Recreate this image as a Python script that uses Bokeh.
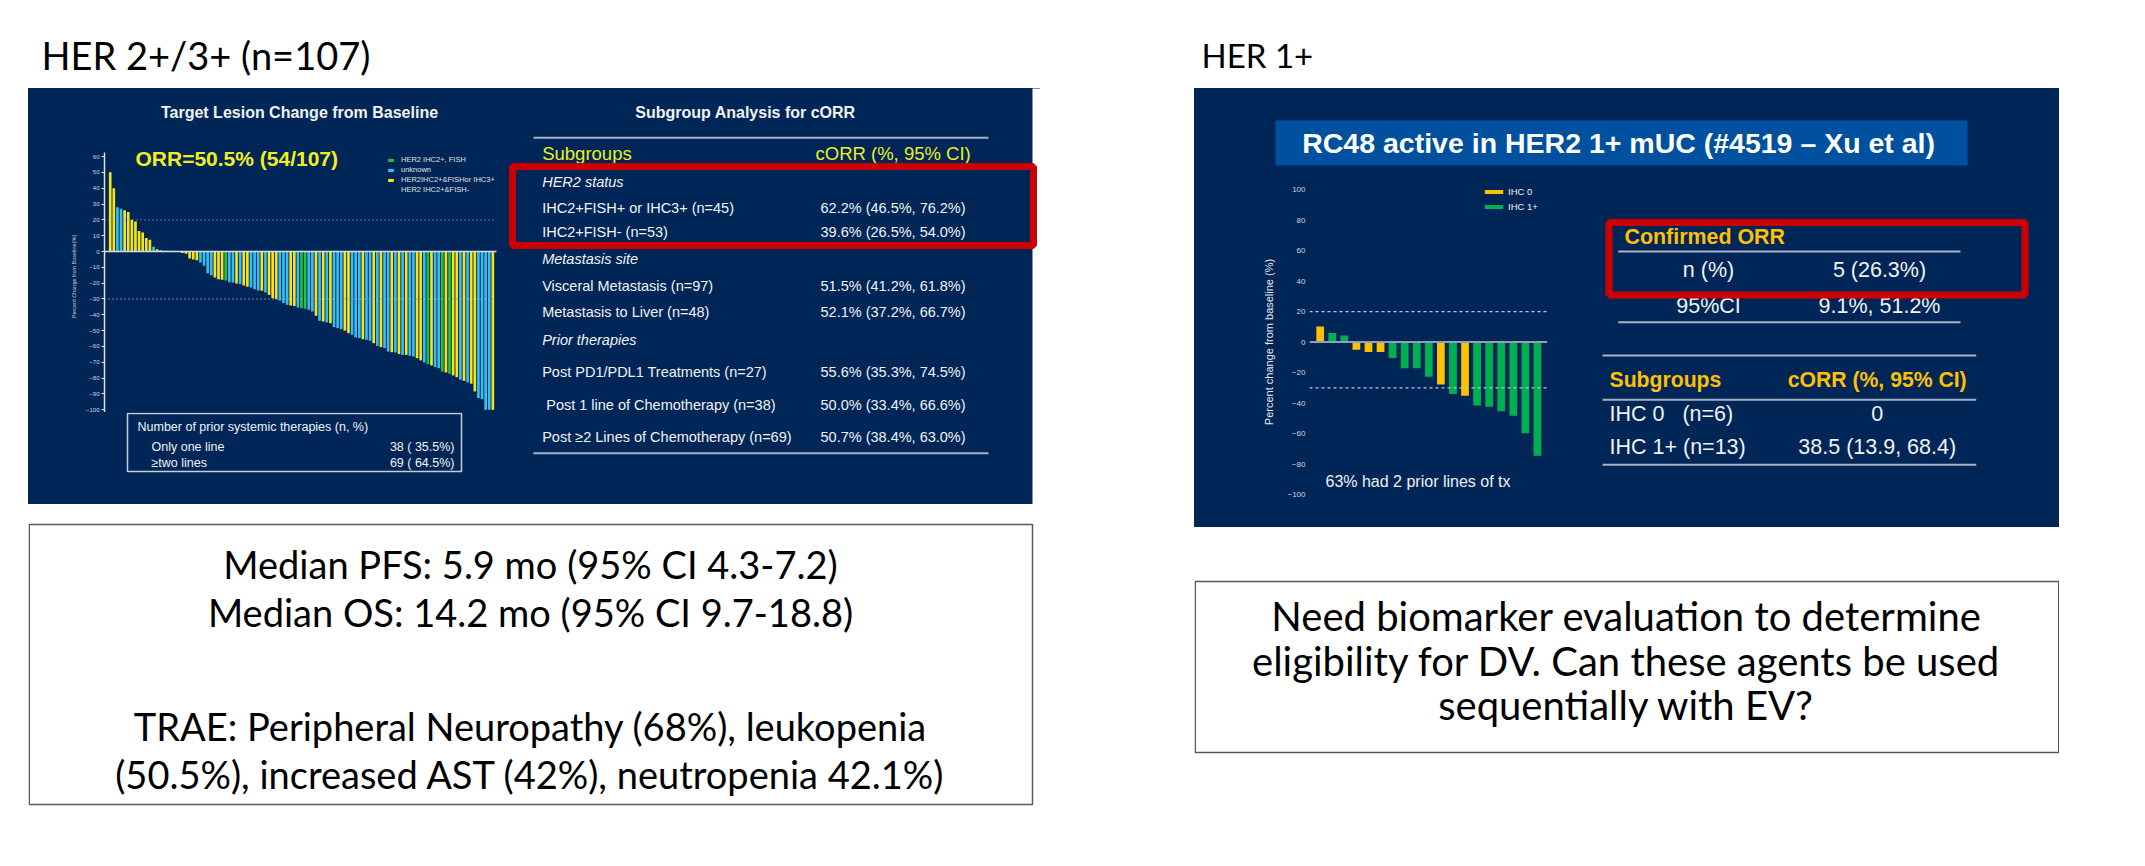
from bokeh.plotting import figure
from bokeh.models import (Range1d, Label, BoxAnnotation, Legend, LegendItem, FixedTicker,
                          ColumnDataSource, Spacer, Span)
from bokeh.layouts import row, column
from bokeh.embed import file_html
from bokeh.resources import INLINE

# ---------------- data ----------------
her23_change = [50, 40, 28, 27, 26, 25, 20, 19, 13, 12, 8.5, 7.5, 3, 1.5, 1,
                0.6, 0.5, 0.5, 0.4, 0.3, -1, -1.5, -4.5, -5, -5.5, -7, -9,
                -13.7, -15, -16.4, -17.5, -17.9, -18.3, -19.4, -19.6, -20.2, -20.6,
                -21.5, -22.3, -22.7, -23.8, -24.6, -24.8, -25.9, -27.4, -29.5, -30.1,
                -31, -32.6, -33.7, -34.1, -34.5, -35.4, -35.8, -36.2, -36.8, -37.9,
                -40.6, -43.8, -44.2, -44.8, -45.3, -47.8, -48.4, -49, -50, -51.6,
                -52.6, -54.3, -54.7, -55.4, -55.8, -56.4, -57.9, -59.6, -60.4, -61,
                -63.2, -63.6, -63.8, -64.8, -65.3, -65.3, -65.9, -66.3, -67.4, -68.8,
                -70.1, -71.2, -72, -73, -73.7, -75.8, -76.4, -77.3, -78.3, -79.4,
                -81, -81.7, -82.7, -83.5, -88.4, -92.6, -93.3, -100, -100, -100]
her23_group = list("YYBBYYYYYYYYBYB" "GGGGG" "YYYYYBB" "BBYYYGBBYB" "YYBBBYBYYY"
                   "BBBYYBGGBB" "YBYBYBBBYY" "BBBYBBYBYB" "BYBYBYBBYY" "BGYBBGYGYY"
                   "BYBYYBBBBY")
her23_legend = [("G", "HER2 IHC2+, FISH"), ("B", "unknown"), ("Y", "HER2IHC2+&FISHor IHC3+")]
her23_legend_extra = "HER2 IHC2+&FISH-"
her23_ticks = [-100, -90, -80, -70, -60, -50, -40, -30, -20, -10, 0, 10, 20, 30, 40, 50, 60]
her23_ref_lines = [20, -30]

her1_change = [10.2, 5.9, 4.3, -5, -6.5, -6.5, -10.4, -17.2, -17.2, -22.8, -27.8,
               -34.1, -35.2, -41.5, -42.4, -45.4, -48.3, -59.8, -74.6]
her1_group = ["IHC 0", "IHC 1+", "IHC 1+", "IHC 0", "IHC 0", "IHC 0", "IHC 1+", "IHC 1+",
              "IHC 1+", "IHC 1+", "IHC 0", "IHC 1+", "IHC 0", "IHC 1+", "IHC 1+", "IHC 1+",
              "IHC 1+", "IHC 1+", "IHC 1+"]
her1_ticks = [-100, -80, -60, -40, -20, 0, 20, 40, 60, 80, 100]
her1_ref_lines = [20, -30]

NB = "\u00a0"
subgroup_labels = ["HER2 status", "IHC2+FISH+ or IHC3+ (n=45)", "IHC2+FISH- (n=53)",
                   "Metastasis site", "Visceral Metastasis (n=97)", "Metastasis to Liver (n=48)",
                   "Prior therapies", "Post PD1/PDL1 Treatments (n=27)",
                   NB + "Post 1 line of Chemotherapy (n=38)",
                   "Post \u22652 Lines of Chemotherapy (n=69)"]
subgroup_italic = [True, False, False, True, False, False, True, False, False, False]
subgroup_corr = ["", "62.2% (46.5%, 76.2%)", "39.6% (26.5%, 54.0%)", "",
                 "51.5% (41.2%, 61.8%)", "52.1% (37.2%, 66.7%)", "",
                 "55.6% (35.3%, 74.5%)", "50.0% (33.4%, 66.6%)", "50.7% (38.4%, 63.0%)"]
prior_lines = [("Only one line", "38 ( 35.5%)"), ("\u2265two lines", "69 ( 64.5%)")]
orr_rows = [("n (%)", "5 (26.3%)"), ("95%CI", "9.1%, 51.2%")]
ihc_rows = [("IHC 0" + NB * 3 + "(n=6)", "0"), ("IHC 1+ (n=13)", "38.5 (13.9, 68.4)")]
summary_left = ["Median PFS: 5.9 mo (95% CI 4.3-7.2)", "Median OS: 14.2 mo (95% CI 9.7-18.8)",
                "TRAE: Peripheral Neuropathy (68%), leukopenia",
                "(50.5%), increased AST (42%), neutropenia 42.1%)"]
summary_right = ["Need biomarker evaluation to determine",
                 "eligibility for DV. Can these agents be used", "sequentially with EV?"]

# ---------------- style ----------------
NAVY = "#002658"
ARIAL = "Liberation Sans"
CAL = "Lato"
COL23 = {"Y": "#F6E41E", "B": "#38BDEE", "G": "#22C33A"}
COL1 = {"IHC 0": "#FFC000", "IHC 1+": "#00B050"}
GOLD = "#FFC000"
YEL = "#EEEE22"
TXT = "#F2F2F2"
RED = "#CC0000"
BG_NAVY = {"background-color": NAVY}


def canvas(w, h, bg, left=0, bottom=0):
    # data coordinates == canvas pixels (y downwards), whatever borders the layout aligns
    p = figure(width=w, height=h, x_range=Range1d(left, w), y_range=Range1d(h - bottom, 0),
               output_backend="svg", toolbar_location=None,
               x_axis_location=None, y_axis_location=None,
               min_border_left=left, min_border_right=0, min_border_top=0,
               min_border_bottom=bottom)
    p.grid.visible = False
    p.outline_line_color = None
    p.background_fill_color = bg
    p.border_fill_color = bg
    return p


def lab(p, x, y, text, size, color=TXT, font=ARIAL, style="normal", align="left",
        baseline="middle", angle=0):
    p.add_layout(Label(x=x, y=y, text=text, text_font_size=f"{size}px", text_color=color,
                       text_font=font, text_font_style=style, text_align=align,
                       text_baseline=baseline, angle=angle))


def hline(p, x0, x1, y, color="#A8B2C4", width=2):
    p.segment(x0=[x0], y0=[y], x1=[x1], y1=[y], line_color=color, line_width=width)


def frame_box(p, l, r, t, b, color, width):
    p.add_layout(BoxAnnotation(left=l, right=r, top=t, bottom=b, fill_alpha=0,
                               line_color=color, line_alpha=1, line_width=width))


# ---------------- header ----------------
header = canvas(2137, 80, "white")
lab(header, 41, 46, "HER 2+/3+ (n=107)", 38, "black", CAL)
lab(header, 1201, 46, "HER 1+", 33, "black", CAL)

# ---------------- left waterfall ----------------
L_X0, L_PX = -0.579, 3.61     # x range start, px per bar
L_PY = 1.583
L_BL = 76
lc = figure(width=477, height=272, x_range=Range1d(L_X0, L_X0 + 401 / L_PX),
            y_range=Range1d(-(412 - 251) / L_PY, (251 - 140) / L_PY),
            output_backend="svg", toolbar_location=None, x_axis_location=None,
            y_axis_location="left", min_border_left=L_BL, min_border_right=0,
            min_border_top=0, min_border_bottom=0)
lc.grid.visible = False
lc.outline_line_color = None
lc.background_fill_color = NAVY
lc.border_fill_color = NAVY

n23 = len(her23_change)
renderers = {}
for g in ["G", "B", "Y"]:
    xs = [i + 1 for i in range(n23) if her23_group[i] == g]
    ys = [her23_change[i] for i in range(n23) if her23_group[i] == g]
    src = ColumnDataSource(dict(x=xs, top=ys))
    renderers[g] = lc.vbar(x="x", top="top", bottom=0, width=0.74, source=src,
                           fill_color=COL23[g], line_color=None)
dummy = lc.vbar(x=[], top=[], width=0.7, fill_alpha=0, line_alpha=0)

lc.segment(x0=[L_X0], y0=[0], x1=[n23 + 1], y1=[0], line_color="#D8DCE4", line_width=1.6)
for yv in her23_ref_lines:
    lc.segment(x0=[L_X0], y0=[yv], x1=[n23 + 1], y1=[yv], line_color="#8FA6C6",
               line_width=1.4, line_dash="1 3")

ax = lc.yaxis[0]
ax.ticker = FixedTicker(ticks=her23_ticks)
ax.bounds = (-102, 62.7)
ax.axis_line_color = "#E0E0E0"
ax.axis_line_width = 1.5
ax.major_tick_line_color = "#E0E0E0"
ax.major_tick_out = 3
ax.major_tick_in = 0
ax.minor_tick_line_color = None
ax.major_label_text_font_size = "6px"
ax.major_label_text_color = "#D8D8D8"
ax.major_label_text_font = ARIAL
ax.major_label_standoff = 2
ax.axis_label = "Percent Change from Baseline(%)"
ax.axis_label_text_font_size = "5.5px"
ax.axis_label_text_color = "#C8C8C8"
ax.axis_label_text_font_style = "normal"
ax.axis_label_text_font = ARIAL
ax.axis_label_standoff = 6


def ldx(px):
    return L_X0 + (px - 104) / L_PX


def ldy(py):
    return (251 - py) / L_PY


lab(lc, ldx(135), ldy(158), "ORR=50.5% (54/107)", 21, "#F5EE1E", style="bold")

items = [LegendItem(label=lbl, renderers=[renderers[g]]) for g, lbl in her23_legend]
items.append(LegendItem(label=her23_legend_extra, renderers=[dummy]))
leg = Legend(items=items, location=(283, 218), padding=0, margin=0, spacing=1,
             label_height=9, glyph_height=4, glyph_width=7, label_standoff=7,
             label_text_font_size="7.5px", label_text_color="#E0E0E0", label_text_font=ARIAL,
             background_fill_alpha=0, border_line_color=None)
lc.add_layout(leg)

lt_top = canvas(477, 52, NAVY, left=L_BL)
lab(lt_top, 271, 24, "Target Lesion Change from Baseline", 16, TXT, style="bold", align="center")

lt_bot = canvas(477, 92, NAVY, left=L_BL)
frame_box(lt_bot, 99, 433, 1, 59, "#C8CCD4", 1.5)
lab(lt_bot, 109, 14.7, "Number of prior systemic therapies (n, %)", 12.5)
for k, (a, b) in enumerate(prior_lines):
    lab(lt_bot, 123, 34.7 + 16 * k, a, 12.5)
    lab(lt_bot, 426, 34.7 + 16 * k, b, 12.5, align="right")

left_chart_col = column(lt_top, lc, lt_bot, styles=BG_NAVY)

# ---------------- left table ----------------
ltab = canvas(535, 416, NAVY)
ltab.quad(left=[527], right=[540], top=[-5], bottom=[421], fill_color="white", line_color=None)
lab(ltab, 240, 24, "Subgroup Analysis for cORR", 16, TXT, style="bold", align="center")
hline(ltab, 28, 483, 49.3)
lab(ltab, 36.7, 65.3, "Subgroups", 18.5, YEL)
lab(ltab, 310, 65.3, "cORR (%, 95% CI)", 18.5, YEL)
row_y = [93.7, 119.7, 143.7, 170.3, 197, 223.7, 251.3, 283, 316.3, 348.7]
for yy, t, it, v in zip(row_y, subgroup_labels, subgroup_italic, subgroup_corr):
    lab(ltab, 36.7, yy, t, 14.5, style="italic" if it else "normal")
    if v:
        lab(ltab, 315, yy, v, 14.5)
hline(ltab, 28, 483, 364.7)
frame_box(ltab, 7, 528, 78, 157, RED, 7)

left_panel = row(left_chart_col, ltab, styles=BG_NAVY)

lbot = canvas(1012, 305, "white")
frame_box(lbot, 0.75, 1004, 20, 300, "#595959", 1.5)
for yy, t in zip([59.6, 107.5, 221, 269], summary_left):
    lab(lbot, 502, yy, t, 38, "black", CAL, align="center")

left_col = column(left_panel, lbot)

# ---------------- right panel ----------------
rtop = canvas(865, 95, NAVY)
rtop.quad(left=[81], right=[773], top=[32], bottom=[77], fill_color="#0050A0", line_color=None)
lab(rtop, 107.7, 54.3, "RC48 active in HER2 1+ mUC (#4519 \u2013 Xu et al)", 28.5, "white",
    style="bold")

R_X0, R_PX = 0.114, 12.07
R_PY = 1.525
R_BB = 27
rc = figure(width=366, height=344, x_range=Range1d(R_X0, R_X0 + 238 / R_PX),
            y_range=Range1d(-(500 - 341.6) / R_PY, (341.6 - 183) / R_PY),
            output_backend="svg", toolbar_location=None, x_axis_location=None,
            y_axis_location="left", min_border_left=115, min_border_right=13,
            min_border_top=0, min_border_bottom=R_BB)
rc.grid.visible = False
rc.outline_line_color = None
rc.background_fill_color = NAVY
rc.border_fill_color = NAVY
rr = {}
for g in ["IHC 0", "IHC 1+"]:
    xs = [i + 1 for i in range(len(her1_change)) if her1_group[i] == g]
    ys = [her1_change[i] for i in range(len(her1_change)) if her1_group[i] == g]
    rr[g] = rc.vbar(x=xs, top=ys, bottom=0, width=0.64, fill_color=COL1[g], line_color=None)
rc.add_layout(Span(location=0, dimension="width", line_color="#8CA0C0", line_width=2))
for yv in her1_ref_lines:
    rc.add_layout(Span(location=yv, dimension="width", line_color="#B8C4D8", line_width=1.2,
                       line_dash="3 3"))
ay = rc.yaxis[0]
ay.ticker = FixedTicker(ticks=her1_ticks)
ay.axis_line_color = None
ay.major_tick_line_color = None
ay.minor_tick_line_color = None
ay.major_tick_out = 0
ay.major_tick_in = 0
ay.major_label_text_font_size = "8px"
ay.major_label_text_color = "#D0D4DC"
ay.major_label_text_font = ARIAL
ay.major_label_standoff = 4
ay.axis_label = "Percent change from baseline (%)"
ay.axis_label_text_font_size = "11px"
ay.axis_label_text_color = "#E8E8E8"
ay.axis_label_text_font_style = "normal"
ay.axis_label_text_font = ARIAL
ay.axis_label_standoff = 9
lab(rc, R_X0 + (1325 - 1309) / R_PX, (341.6 - 481) / R_PY, "63% had 2 prior lines of tx", 16,
    "#F0F0F0")
rleg = Legend(items=[LegendItem(label=g, renderers=[rr[g]]) for g in ["IHC 0", "IHC 1+"]],
              location=(173, 288), padding=0, margin=0, spacing=3, label_height=12,
              glyph_height=5, glyph_width=23, label_standoff=3,
              label_text_font_size="9.5px", label_text_color="#F0F0F0", label_text_font=ARIAL,
              background_fill_alpha=0, border_line_color=None)
rc.add_layout(rleg)

rtab = canvas(499, 344, NAVY, bottom=R_BB)
lab(rtab, 64, 53, "Confirmed ORR", 21.4, GOLD, style="bold")
hline(rtab, 57.7, 400, 68)
for k, (a, b) in enumerate(orr_rows):
    lab(rtab, 148, 86.3 + 35.7 * k, a, 21.5, align="center")
    lab(rtab, 319, 86.3 + 35.7 * k, b, 21.5, align="center")
hline(rtab, 57.7, 400, 138.7)
hline(rtab, 42, 415.7, 172)
lab(rtab, 49, 196, "Subgroups", 21.2, GOLD, style="bold")
lab(rtab, 316.7, 196, "cORR (%, 95% CI)", 21.2, GOLD, style="bold", align="center")
hline(rtab, 42, 415.7, 216.3)
for k, (a, b) in enumerate(ihc_rows):
    lab(rtab, 49, 230.3 + 32.7 * k, a, 21.5)
    lab(rtab, 316.7, 230.3 + 32.7 * k, b, 21.5, align="center")
hline(rtab, 42, 415.7, 281.3)
frame_box(rtab, 48.5, 464.5, 39, 111.5, RED, 7)

right_panel = column(rtop, row(rc, rtab, styles=BG_NAVY), styles=BG_NAVY)

rbot = canvas(865, 235, "white")
frame_box(rbot, 0.75, 864.25, 54, 225, "#595959", 1.5)
for yy, t in zip([88, 133.5, 177], summary_right):
    lab(rbot, 432, yy, t, 40, "black", CAL, align="center")

right_col = column(right_panel, rbot)

body = row(Spacer(width=28, height=10), left_col, Spacer(width=154, height=10), right_col)
page = column(Spacer(width=10, height=8), header, body)

open("out.html", "w").write(file_html(page, INLINE))
